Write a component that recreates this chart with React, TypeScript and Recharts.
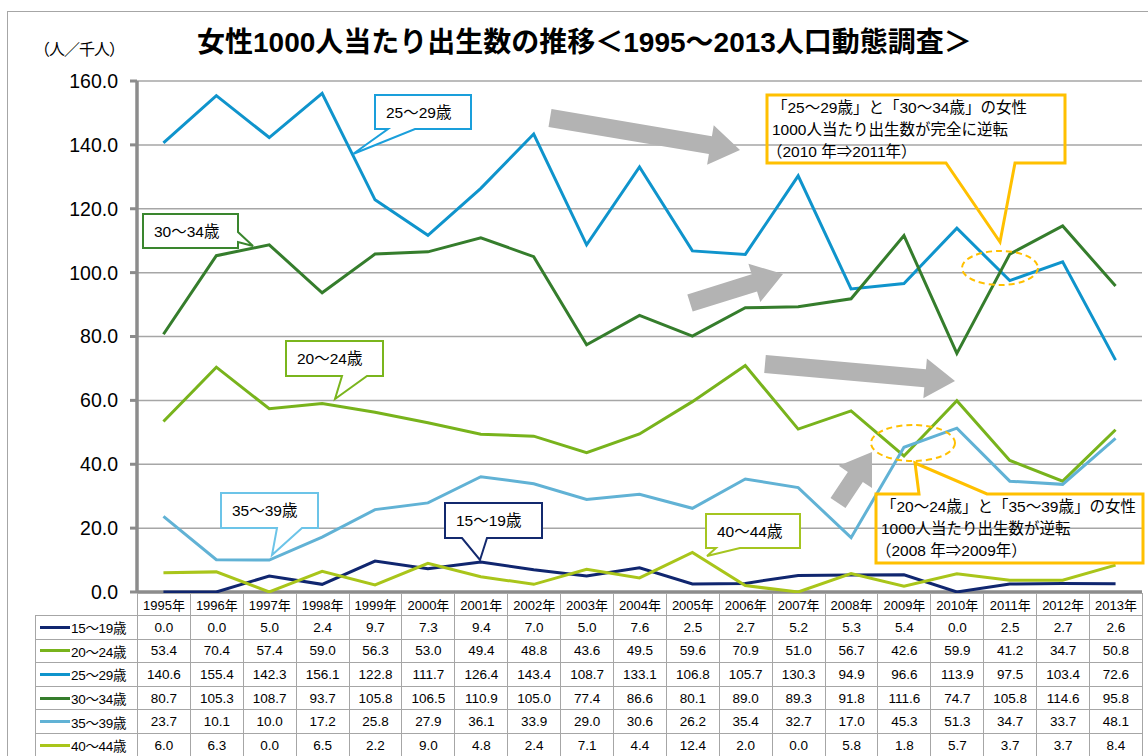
import { LineChart, Line, XAxis, YAxis, CartesianGrid, ReferenceLine } from 'recharts';

const years = ['1995年', '1996年', '1997年', '1998年', '1999年', '2000年', '2001年', '2002年', '2003年', '2004年',
    '2005年', '2006年', '2007年', '2008年', '2009年', '2010年', '2011年', '2012年', '2013年'];

const age15 = [0.0, 0.0, 5.0, 2.4, 9.7, 7.3, 9.4, 7.0, 5.0, 7.6, 2.5, 2.7, 5.2, 5.3, 5.4, 0.0, 2.5, 2.7, 2.6];
const age20 = [53.4, 70.4, 57.4, 59.0, 56.3, 53.0, 49.4, 48.8, 43.6, 49.5, 59.6, 70.9, 51.0, 56.7, 42.6, 59.9, 41.2, 34.7, 50.8];
const age25 = [140.6, 155.4, 142.3, 156.1, 122.8, 111.7, 126.4, 143.4, 108.7, 133.1, 106.8, 105.7, 130.3, 94.9, 96.6, 113.9, 97.5, 103.4, 72.6];
const age30 = [80.7, 105.3, 108.7, 93.7, 105.8, 106.5, 110.9, 105.0, 77.4, 86.6, 80.1, 89.0, 89.3, 91.8, 111.6, 74.7, 105.8, 114.6, 95.8];
const age35 = [23.7, 10.1, 10.0, 17.2, 25.8, 27.9, 36.1, 33.9, 29.0, 30.6, 26.2, 35.4, 32.7, 17.0, 45.3, 51.3, 34.7, 33.7, 48.1];
const age40 = [6.0, 6.3, 0.0, 6.5, 2.2, 9.0, 4.8, 2.4, 7.1, 4.4, 12.4, 2.0, 0.0, 5.8, 1.8, 5.7, 3.7, 3.7, 8.4];

const seriesNames = ['15～19歳', '20～24歳', '25～29歳', '30～34歳', '35～39歳', '40～44歳'];
const seriesValues = [age15, age20, age25, age30, age35, age40];
const seriesColors = ['#10266f', '#78b31c', '#0f94cc', '#357d2c', '#61b2d5', '#a9c51a'];
const yTicks = [0, 20, 40, 60, 80, 100, 120, 140, 160];

const chartData = years.map((year, i) => {
    const row: any = { year };
    seriesValues.forEach((vals, s) => { row['s' + s] = vals[i]; });
    return row;
});

const FONT = '"Liberation Sans", Arial, "Noto Sans CJK JP", sans-serif';

// callout boxes (annotation layer)
type Callout = {
    x: number; y: number; w: number; h: number;
    side: 'bottom' | 'top' | 'right';
    b1: number; b2: number; tx: number; ty: number;
    color: string; lines: string[]; fill: string; sw: number; fs: number;
};

const callouts: Callout[] = [
    { x: 375, y: 95, w: 96, h: 34, side: 'bottom', b1: 388, b2: 415, tx: 353, ty: 154, color: '#1a9fdb', lines: ['25～29歳'], fill: '#fff', sw: 2, fs: 15.5 },
    { x: 143, y: 214, w: 95, h: 34, side: 'right', b1: 232, b2: 242, tx: 253, ty: 246, color: '#3a862e', lines: ['30～34歳'], fill: '#fff', sw: 2, fs: 15.5 },
    { x: 286, y: 341, w: 97, h: 35, side: 'bottom', b1: 342, b2: 367, tx: 335, ty: 399, color: '#7ab51d', lines: ['20～24歳'], fill: '#fff', sw: 2, fs: 15.5 },
    { x: 221, y: 493, w: 97, h: 35, side: 'bottom', b1: 277, b2: 302, tx: 272, ty: 555, color: '#6cc4e8', lines: ['35～39歳'], fill: '#fff', sw: 2, fs: 15.5 },
    { x: 445, y: 503, w: 97, h: 35, side: 'bottom', b1: 462, b2: 487, tx: 480, ty: 560, color: '#13296e', lines: ['15～19歳'], fill: '#fff', sw: 2, fs: 15.5 },
    { x: 706, y: 514, w: 94, h: 34, side: 'bottom', b1: 716, b2: 740, tx: 707, ty: 556, color: '#a5c520', lines: ['40～44歳'], fill: '#fff', sw: 2, fs: 15.5 },
    { x: 767, y: 95, w: 298, h: 68, side: 'bottom', b1: 946, b2: 1015, tx: 1000, ty: 242, color: '#ffc000', lines: ['「25～29歳」と「30～34歳」の女性', '1000人当たり出生数が完全に逆転', '（2010 年⇒2011年）'], fill: 'none', sw: 3, fs: 15.5 },
    { x: 876, y: 494, w: 267, h: 69, side: 'top', b1: 919, b2: 987, tx: 915, ty: 463, color: '#ffc000', lines: ['「20～24歳」と「35～39歳」の女性', '1000人当たり出生数が逆転', '（2008 年⇒2009年）'], fill: 'none', sw: 3, fs: 15.5 },
];

const arrows = [
    { x1: 550, y1: 118, x2: 740, y2: 150 },
    { x1: 690, y1: 303, x2: 783, y2: 274 },
    { x1: 765, y1: 364, x2: 955, y2: 381 },
    { x1: 838, y1: 503, x2: 872, y2: 452 },
];

const rings = [
    { cx: 1000, cy: 268, rx: 38, ry: 17 },
    { cx: 913, cy: 443, rx: 42, ry: 18 },
];

function calloutPath(c: Callout) {
    const { x, y, w, h, b1, b2, tx, ty } = c;
    let pts: number[][];
    if (c.side === 'bottom') {
        pts = [[x, y], [x + w, y], [x + w, y + h], [b2, y + h], [tx, ty], [b1, y + h], [x, y + h]];
    } else if (c.side === 'top') {
        pts = [[x, y], [b1, y], [tx, ty], [b2, y], [x + w, y], [x + w, y + h], [x, y + h]];
    } else {
        pts = [[x, y], [x + w, y], [x + w, b1], [tx, ty], [x + w, b2], [x + w, y + h], [x, y + h]];
    }
    return 'M' + pts.map(p => p.join(',')).join(' L') + ' Z';
}

function arrowPoints(a: { x1: number; y1: number; x2: number; y2: number }) {
    const dx = a.x2 - a.x1, dy = a.y2 - a.y1;
    const len = Math.sqrt(dx * dx + dy * dy);
    const ux = dx / len, uy = dy / len, nx = -uy, ny = ux;
    const sw = 9, hw = 20, hl = 30;
    const bx = a.x2 - ux * hl, by = a.y2 - uy * hl;
    const p = [
        [a.x1 + nx * sw, a.y1 + ny * sw], [bx + nx * sw, by + ny * sw], [bx + nx * hw, by + ny * hw],
        [a.x2, a.y2],
        [bx - nx * hw, by - ny * hw], [bx - nx * sw, by - ny * sw], [a.x1 - nx * sw, a.y1 - ny * sw],
    ];
    return p.map(q => q.join(',')).join(' ');
}

const cellStyle: React.CSSProperties = {
    border: '1px solid #a6a6a6', padding: 0, textAlign: 'center', whiteSpace: 'nowrap', overflow: 'hidden',
};

export default function App() {
    return (
        <div style={{ position: 'absolute', left: 0, top: 0, width: 1148, height: 756, background: '#fff', overflow: 'hidden', fontFamily: FONT, color: '#000' }}>
            <div style={{ position: 'absolute', left: 7, top: 11, width: 1200, height: 800, borderTop: '1.5px solid #a6a6a6', borderLeft: '1.5px solid #a6a6a6' }} />
            <div style={{ position: 'absolute', left: 197, top: 25, fontSize: 28, fontWeight: 'bold', whiteSpace: 'nowrap', lineHeight: '36px' }}>
                女性1000人当たり出生数の推移＜1995～2013人口動態調査＞
            </div>
            <div style={{ position: 'absolute', left: 34, top: 39, fontSize: 16, whiteSpace: 'nowrap', lineHeight: '22px', letterSpacing: -1 }}>
                （人／千人）
            </div>

            <LineChart width={1148} height={612} data={chartData} margin={{ top: 81, right: 6, bottom: 20, left: 0 }}
                style={{ position: 'absolute', left: 0, top: 0 }}>
                <CartesianGrid vertical={false} stroke="#a6a6a6" strokeWidth={1.5} />
                <XAxis dataKey="year" hide padding={{ left: 1005 / 38, right: 1005 / 38 }} />
                <YAxis width={137} domain={[0, 160]} ticks={yTicks} interval={0}
                    tickFormatter={(v: number) => v.toFixed(1)}
                    tick={{ fill: '#000', fontSize: 19.5, fontFamily: FONT }}
                    tickSize={7} tickMargin={12}
                    tickLine={{ stroke: '#8c8c8c', strokeWidth: 3 }}
                    axisLine={{ stroke: '#8c8c8c', strokeWidth: 3.5 }} />
                <ReferenceLine y={0} stroke="#8c8c8c" strokeWidth={3.5} />
                {seriesNames.map((name, s) => (
                    <Line key={name} name={name} dataKey={'s' + s} stroke={seriesColors[s]} strokeWidth={3}
                        dot={false} activeDot={false} isAnimationActive={false} />
                ))}
            </LineChart>

            <table style={{ position: 'absolute', left: 35, top: 593, width: 1107, borderCollapse: 'collapse', tableLayout: 'fixed', fontSize: 13.5, fontFamily: FONT }}>
                <colgroup>
                    <col style={{ width: 102 }} />
                    {years.map(y => <col key={y} style={{ width: 1005 / 19 }} />)}
                </colgroup>
                <tbody>
                    <tr style={{ height: 22 }}>
                        <td style={{ padding: 0, border: 'none' }} />
                        {years.map(y => <td key={y} style={{ ...cellStyle, fontSize: 13, background: '#fff' }}>{y}</td>)}
                    </tr>
                    {seriesNames.map((name, s) => (
                        <tr key={name} style={{ height: 23.6, background: '#fff' }}>
                            <td style={{ ...cellStyle, textAlign: 'left' }}>
                                <div style={{ display: 'flex', alignItems: 'center' }}>
                                    <span style={{ display: 'inline-block', width: 30, height: 3, background: seriesColors[s], marginLeft: 4, marginRight: 1, flexShrink: 0 }} />
                                    <span style={{ fontSize: 13.5, letterSpacing: -0.3 }}>{name}</span>
                                </div>
                            </td>
                            {seriesValues[s].map((v, i) => <td key={i} style={cellStyle}>{v.toFixed(1)}</td>)}
                        </tr>
                    ))}
                </tbody>
            </table>

            <svg width={1148} height={756} style={{ position: 'absolute', left: 0, top: 0, pointerEvents: 'none' }}>
                {arrows.map((a, i) => <polygon key={i} points={arrowPoints(a)} fill="#b3b3b3" />)}
                {rings.map((r, i) => (
                    <ellipse key={i} cx={r.cx} cy={r.cy} rx={r.rx} ry={r.ry} fill="none" stroke="#ffc000" strokeWidth={2} strokeDasharray="6 4" />
                ))}
                {callouts.map((c, i) => (
                    <g key={i}>
                        <path d={calloutPath(c)} fill={c.fill} stroke={c.color} strokeWidth={c.sw} strokeLinejoin="miter" />
                        {c.lines.map((t, j) => (
                            <text key={j} x={c.x + (c.lines.length > 1 ? (j === 2 ? 0 : 5) : 11)}
                                y={c.lines.length > 1 ? c.y + 18 + j * 22 : c.y + c.h / 2 + 5.5}
                                fontSize={c.fs} fontFamily={FONT} fill="#000">{t}</text>
                        ))}
                    </g>
                ))}
            </svg>
        </div>
    );
}
